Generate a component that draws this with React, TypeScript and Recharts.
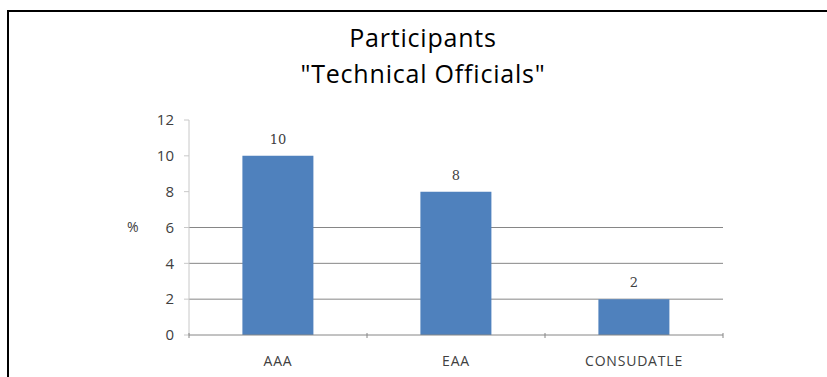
import { BarChart, Bar, XAxis, YAxis, CartesianGrid, LabelList } from "recharts";

const categories = ["AAA", "EAA", "CONSUDATLE"];
const participants = [10, 8, 2];
const yTicks = [0, 2, 4, 6, 8, 10, 12];
const gridValues = [2, 4, 6];

const data = categories.map((name, i) => ({ name, value: participants[i] }));

const AXIS_FONT = "'Open Sans', 'Noto Sans', sans-serif";

// ticks on the category axis sit on the boundaries, labels in the middle
function CategoryTick(props: any) {
  const { x, y, payload, index, visibleTicksCount } = props;
  const half = payload.offset ?? 0;
  const last = index === (visibleTicksCount ?? categories.length) - 1;
  const top = y - 10;
  return (
    <g>
      <line x1={x - half} x2={x - half} y1={top} y2={top + 5} stroke="#868686" />
      {last && <line x1={x + half} x2={x + half} y1={top} y2={top + 5} stroke="#868686" />}
      <text
        x={x}
        y={top + 33}
        textAnchor="middle"
        fontSize={14}
        letterSpacing={0.8}
        fill="#404040"
        fontFamily={AXIS_FONT}
      >
        {payload.value}
      </text>
    </g>
  );
}

export default function App() {
  return (
    <div style={{ position: "absolute", left: 0, top: 0, width: 827, height: 377, background: "#fff", overflow: "hidden" }}>
      <div
        style={{
          position: "absolute",
          left: 7,
          top: 10,
          width: 830,
          height: 380,
          borderLeft: "2px solid #000",
          borderTop: "2px solid #000",
        }}
      />
      <div
        style={{
          position: "absolute",
          left: 223,
          width: 400,
          top: 19,
          textAlign: "center",
          fontFamily: "'Open Sans', 'Noto Sans', sans-serif",
          fontSize: 25,
          letterSpacing: 0.8,
          lineHeight: "36px",
          color: "#000",
        }}
      >
        <div>Participants</div>
        <div>"Technical Officials"</div>
      </div>
      <div style={{ position: "absolute", left: 0, top: 0 }}>
        <BarChart
          width={827}
          height={377}
          data={data}
          margin={{ top: 120, right: 104, bottom: 12, left: 139 }}
          barCategoryGap="30%"
        >
          <CartesianGrid horizontal vertical={false} horizontalValues={gridValues} stroke="#868686" />
          <XAxis
            dataKey="name"
            height={30}
            axisLine={{ stroke: "#868686" }}
            tickLine={false}
            tick={<CategoryTick />}
            interval={0}
          />
          <YAxis
            width={50}
            domain={[0, 12]}
            ticks={yTicks}
            interval={0}
            axisLine={{ stroke: "#c8c8c8" }}
            tickLine={{ stroke: "#c8c8c8" }}
            tickSize={5}
            tickMargin={10}
            tick={{ fontSize: 15, fill: "#404040", fontFamily: AXIS_FONT }}
            label={{ value: "%", position: "insideLeft", offset: -12, fontSize: 14, fill: "#404040", fontFamily: AXIS_FONT }}
          />
          <Bar dataKey="value" fill="#4f81bd" isAnimationActive={false}>
            <LabelList
              dataKey="value"
              position="top"
              offset={12}
              fontSize={13}
              fill="#404040"
              fontFamily="'DejaVu Serif', serif"
            />
          </Bar>
        </BarChart>
      </div>
    </div>
  );
}
